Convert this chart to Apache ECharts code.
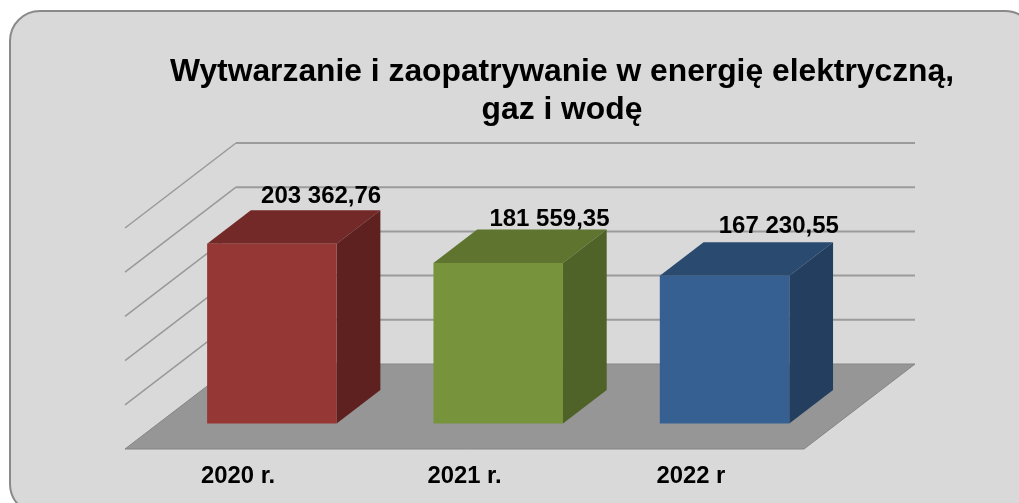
<!DOCTYPE html>
<html><head><meta charset="utf-8">
<style>html,body{margin:0;padding:0;background:#fff}#c{width:1019px;height:503px}</style>
<script src="https://cdn.jsdelivr.net/npm/echarts@6/dist/echarts.min.js"></script>
</head><body><div id="c"></div>
<script>
const titleText = 'Wytwarzanie i zaopatrywanie w energię elektryczną,\ngaz i wodę';
const categories = ['2020 r.', '2021 r.', '2022 r'];
const values = [203362.76, 181559.35, 167230.55];
const valueLabels = ['203 362,76', '181 559,35', '167 230,55'];
const gridValues = [50000, 100000, 150000, 200000, 250000];
const frontColors = ['#953735', '#77933c', '#376092'];
const topColors = ['#722927', '#5f752f', '#2a4a70'];
const sideColors = ['#5f2120', '#4f6228', '#233e5f'];
const labelOffsetX = [49, 51, 54];
const labelOffsetY = [-13.5, -10.5, -16];

const DX = 111, DY = -85;          // full floor depth
const FRONT = 0.306, BACK = 0.70;  // bar position within the depth
const BAR_W = 129.5;
const FONT = '"Liberation Sans", Arial, sans-serif';

const chart = echarts.init(document.getElementById('c'), null, {renderer: 'canvas'});
chart.setOption({
  animation: false,
  backgroundColor: '#ffffff',
  title: {
    text: titleText, left: 557, top: 48, textAlign: 'center',
    textStyle: {fontFamily: FONT, fontWeight: 'bold', fontSize: 31.8, lineHeight: 38, color: '#000'}
  },
  graphic: {elements: [{
    type: 'rect', z: -100, silent: true,
    shape: {x: 10, y: 11, width: 1025, height: 503, r: 30},
    style: {fill: '#d9d9d9', stroke: '#8a8a8a', lineWidth: 2}
  }]},
  grid: {left: 125, top: 228, width: 679, height: 221},
  xAxis: {
    type: 'category', data: categories,
    axisLine: {show: false}, axisTick: {show: false},
    axisLabel: {margin: 15, color: '#000', fontFamily: FONT, fontWeight: 'bold', fontSize: 23.8}
  },
  yAxis: {type: 'value', min: 0, max: 250000, interval: 50000, show: false, splitLine: {show: false}},
  series: [
    { // floor
      type: 'custom', coordinateSystem: 'cartesian2d', silent: true, z: 1,
      data: [[0, 0]],
      renderItem(params, api) {
        const r = params.coordSys, y = api.coord([0, 0])[1];
        return {type: 'polygon',
          shape: {points: [[r.x, y], [r.x + r.width, y], [r.x + r.width + DX, y + DY], [r.x + DX, y + DY]]},
          style: {fill: '#969696', stroke: '#858585', lineWidth: 1}};
      }
    },
    { // wall grid lines
      type: 'custom', coordinateSystem: 'cartesian2d', silent: true, z: 2,
      data: gridValues.map(v => [0, v]),
      renderItem(params, api) {
        const r = params.coordSys, y = api.coord([0, api.value(1)])[1];
        return {type: 'group', children: [
          {type: 'line', shape: {x1: r.x, y1: y, x2: r.x + DX, y2: y + DY},
            style: {stroke: '#999999', lineWidth: 1.5}},
          {type: 'line', shape: {x1: r.x + DX, y1: y + DY, x2: r.x + r.width + DX, y2: y + DY},
            style: {stroke: '#9b9b9b', lineWidth: 2}}
        ]};
      }
    },
    { // 3D bars
      type: 'custom', coordinateSystem: 'cartesian2d', silent: true, z: 3,
      data: values.map((v, i) => [i, v]),
      renderItem(params, api) {
        const i = params.dataIndex;
        const c0 = api.coord([api.value(0), 0]), c1 = api.coord([api.value(0), api.value(1)]);
        const fx = DX * FRONT, fy = DY * FRONT + 0.5, d = DX * (BACK - FRONT), e = DY * (BACK - FRONT);
        const x0 = c0[0] + fx - 65, x1 = x0 + BAR_W;
        const yb = c0[1] + fy, yt = c1[1] + fy;
        return {type: 'group', children: [
          {type: 'polygon', shape: {points: [[x0, yt], [x1, yt], [x1 + d, yt + e], [x0 + d, yt + e]]},
            style: {fill: topColors[i]}},
          {type: 'polygon', shape: {points: [[x1, yt], [x1 + d, yt + e], [x1 + d, yb + e], [x1, yb]]},
            style: {fill: sideColors[i]}},
          {type: 'rect', shape: {x: x0, y: yt, width: BAR_W, height: yb - yt},
            style: {fill: frontColors[i]}},
          {type: 'text', style: {text: valueLabels[i], x: x0 + 65 + labelOffsetX[i], y: yt + e + labelOffsetY[i],
            align: 'center', verticalAlign: 'middle',
            font: 'bold 24px ' + FONT, fill: '#000'}}
        ]};
      }
    }
  ]
});
</script></body></html>
